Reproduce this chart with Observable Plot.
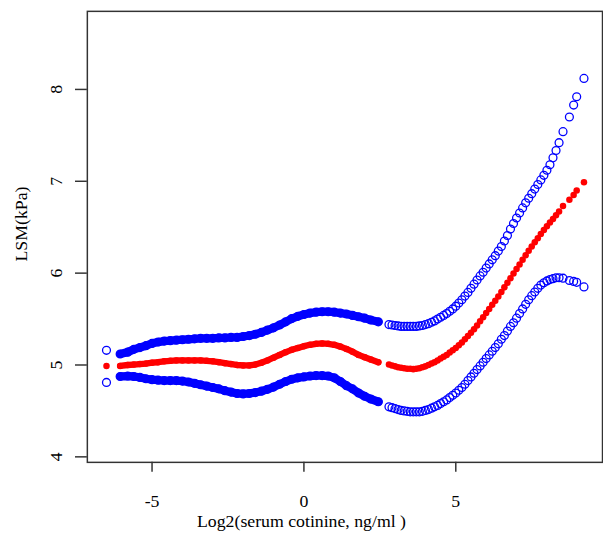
<!DOCTYPE html>
<html><head><meta charset="utf-8">
<script src="https://cdn.jsdelivr.net/npm/d3@7"></script>
<script src="https://cdn.jsdelivr.net/npm/@observablehq/plot@0.6"></script>
<style>body{margin:0;background:#fff} #wrap{width:603px;height:540px;overflow:hidden;background:#fff}</style>
</head><body><div id="wrap"></div>
<script>
// Log2(serum cotinine) values
const x = [-6.5,
 -6.05,-5.8,-5.6,-5.4,-5.2,-5.0,-4.8,-4.6,-4.4,-4.2,-4.0,-3.8,-3.6,-3.4,-3.2,-3.0,-2.8,-2.6,-2.4,-2.2,
 -2.0,-1.8,-1.6,-1.4,-1.2,-1.0,-0.8,-0.6,-0.4,-0.2,0,0.2,0.4,0.6,0.8,1.0,1.2,1.4,1.6,1.8,2.0,2.2,2.45,
 2.8,2.9,3.0,3.1,3.2,3.3,3.4,3.5,3.6,3.7,3.8,3.9,4.0,4.1,4.2,4.3,4.4,4.5,4.6,4.7,
 4.8,4.9,5.0,5.1,5.2,5.3,5.4,5.5,5.6,5.7,5.8,5.9,6.0,6.1,6.2,6.3,6.4,6.5,6.6,6.7,
 6.8,6.9,7.0,7.1,7.2,7.3,7.4,7.5,7.6,7.7,7.8,7.9,8.0,8.1,8.2,8.3,8.4,
 8.53,8.74,8.88,8.98,9.22];
// upper 95% CI of LSM (kPa)
const upper = [5.16,
 5.12,5.14,5.17,5.19,5.21,5.235,5.25,5.26,5.265,5.27,5.275,5.28,5.285,5.29,5.29,5.29,5.295,5.295,5.30,5.30,
 5.31,5.32,5.335,5.355,5.38,5.405,5.435,5.47,5.505,5.53,5.55,5.565,5.575,5.58,5.58,5.575,5.565,5.555,5.54,5.525,5.51,5.49,5.47,
 5.44,5.435,5.43,5.425,5.42,5.42,5.42,5.42,5.42,5.42,5.425,5.43,5.44,5.45,5.465,5.48,5.50,5.52,5.54,5.56,
 5.585,5.61,5.64,5.675,5.71,5.75,5.79,5.835,5.88,5.925,5.97,6.01,6.055,6.10,6.145,6.19,6.24,6.29,6.35,6.41,
 6.48,6.54,6.60,6.655,6.71,6.765,6.815,6.865,6.915,6.965,7.015,7.065,7.12,7.18,7.255,7.335,7.42,
 7.54,7.70,7.83,7.92,8.12];
// fitted LSM (kPa)
const fit = [4.99,
 4.99,5.0,5.005,5.01,5.015,5.025,5.03,5.04,5.045,5.05,5.05,5.05,5.05,5.05,5.045,5.04,5.03,5.02,5.01,5.0,
 4.995,4.995,5.005,5.025,5.05,5.08,5.11,5.14,5.165,5.185,5.205,5.22,5.23,5.235,5.23,5.22,5.20,5.175,5.145,5.11,5.085,5.06,5.03,
 5.005,4.995,4.985,4.975,4.97,4.965,4.96,4.96,4.955,4.96,4.965,4.975,4.985,5.0,5.015,5.03,5.05,5.07,5.09,5.11,
 5.135,5.16,5.185,5.215,5.245,5.28,5.315,5.35,5.39,5.43,5.475,5.52,5.565,5.61,5.655,5.70,5.745,5.795,5.845,5.895,
 5.945,5.995,6.045,6.095,6.145,6.195,6.245,6.29,6.335,6.38,6.425,6.47,6.51,6.55,6.59,6.63,6.67,
 6.73,6.80,6.85,6.90,6.99];
// lower 95% CI of LSM (kPa)
const lower = [4.81,
 4.875,4.88,4.875,4.865,4.85,4.84,4.835,4.83,4.83,4.83,4.825,4.815,4.80,4.785,4.77,4.755,4.74,4.72,4.705,4.69,
 4.685,4.69,4.70,4.715,4.735,4.76,4.79,4.82,4.845,4.86,4.87,4.88,4.885,4.885,4.88,4.86,4.82,4.775,4.74,4.695,4.66,4.63,4.60,
 4.545,4.535,4.525,4.515,4.505,4.50,4.495,4.49,4.49,4.49,4.49,4.495,4.505,4.515,4.53,4.545,4.56,4.58,4.60,4.62,
 4.645,4.67,4.695,4.725,4.755,4.79,4.83,4.87,4.91,4.95,4.99,5.03,5.07,5.11,5.15,5.19,5.23,5.28,5.32,5.37,
 5.42,5.46,5.51,5.56,5.61,5.66,5.71,5.755,5.795,5.835,5.87,5.895,5.915,5.93,5.94,5.95,5.95,
 5.945,5.92,5.91,5.90,5.85];
const xTicks = [-5, 0, 5];
const yTicks = [4, 5, 6, 7, 8];
const xLabel = "Log2(serum cotinine, ng/ml )";
const yLabel = "LSM(kPa)";

const rows = x.map((v, i) => ({x: v, upper: upper[i], fit: fit[i], lower: lower[i]}));
const dense = rows.slice(1, 44);
const BLUE = "#0000ff", RED = "#ff0000", INK = "#333333";
const FONT = "'Liberation Serif', 'Times New Roman', serif";

const chart = Plot.plot({
  width: 611, height: 540,
  marginLeft: 88, marginRight: 1, marginTop: 11, marginBottom: 72,
  style: {fontFamily: FONT, fontSize: "18px", background: "white", color: "black"},
  x: {domain: [-7.13, 9.83], axis: null},
  y: {domain: [3.94, 8.85], axis: null},
  marks: [
    Plot.line(dense, {x: "x", y: "upper", stroke: BLUE, strokeWidth: 8.4}),
    Plot.line(dense, {x: "x", y: "lower", stroke: BLUE, strokeWidth: 8.4}),
    Plot.line(dense, {x: "x", y: "fit", stroke: RED, strokeWidth: 6.4}),
    Plot.dot(rows, {x: "x", y: "upper", r: 4, stroke: BLUE, strokeWidth: 1.3, fill: "none"}),
    Plot.dot(rows, {x: "x", y: "lower", r: 4, stroke: BLUE, strokeWidth: 1.3, fill: "none"}),
    Plot.dot(rows, {x: "x", y: "fit", r: 3.3, fill: RED, stroke: "none"}),
    Plot.frame({stroke: INK, strokeWidth: 1.5}),
    Plot.axisX(xTicks, {tickSize: 10, tickPadding: 22, fontSize: 18, fontFamily: FONT, tickFormat: d => String(d), stroke: INK, strokeWidth: 1.5, fill: "black", label: null}),
    Plot.axisY(yTicks, {tickSize: 12, fill: "none", stroke: INK, strokeWidth: 1.5, label: null}),
    Plot.text(yTicks, {y: d => d, text: d => String(d), frameAnchor: "left", dx: -26, rotate: -90, textAnchor: "middle", lineAnchor: "bottom", fontSize: 18, fontFamily: FONT, fill: "black"}),
    Plot.text([yLabel], {text: d => d, frameAnchor: "left", dx: -61.5, dy: -13, rotate: -90, textAnchor: "middle", lineAnchor: "bottom", fontSize: 18, fontFamily: FONT, fill: "black"}),
    Plot.text([xLabel], {text: d => d, frameAnchor: "bottom", dx: -44, dy: 66, textAnchor: "middle", lineAnchor: "bottom", fontSize: 18, fontFamily: FONT, fill: "black"})
  ]
});
document.getElementById("wrap").appendChild(chart);
</script>
</body></html>
